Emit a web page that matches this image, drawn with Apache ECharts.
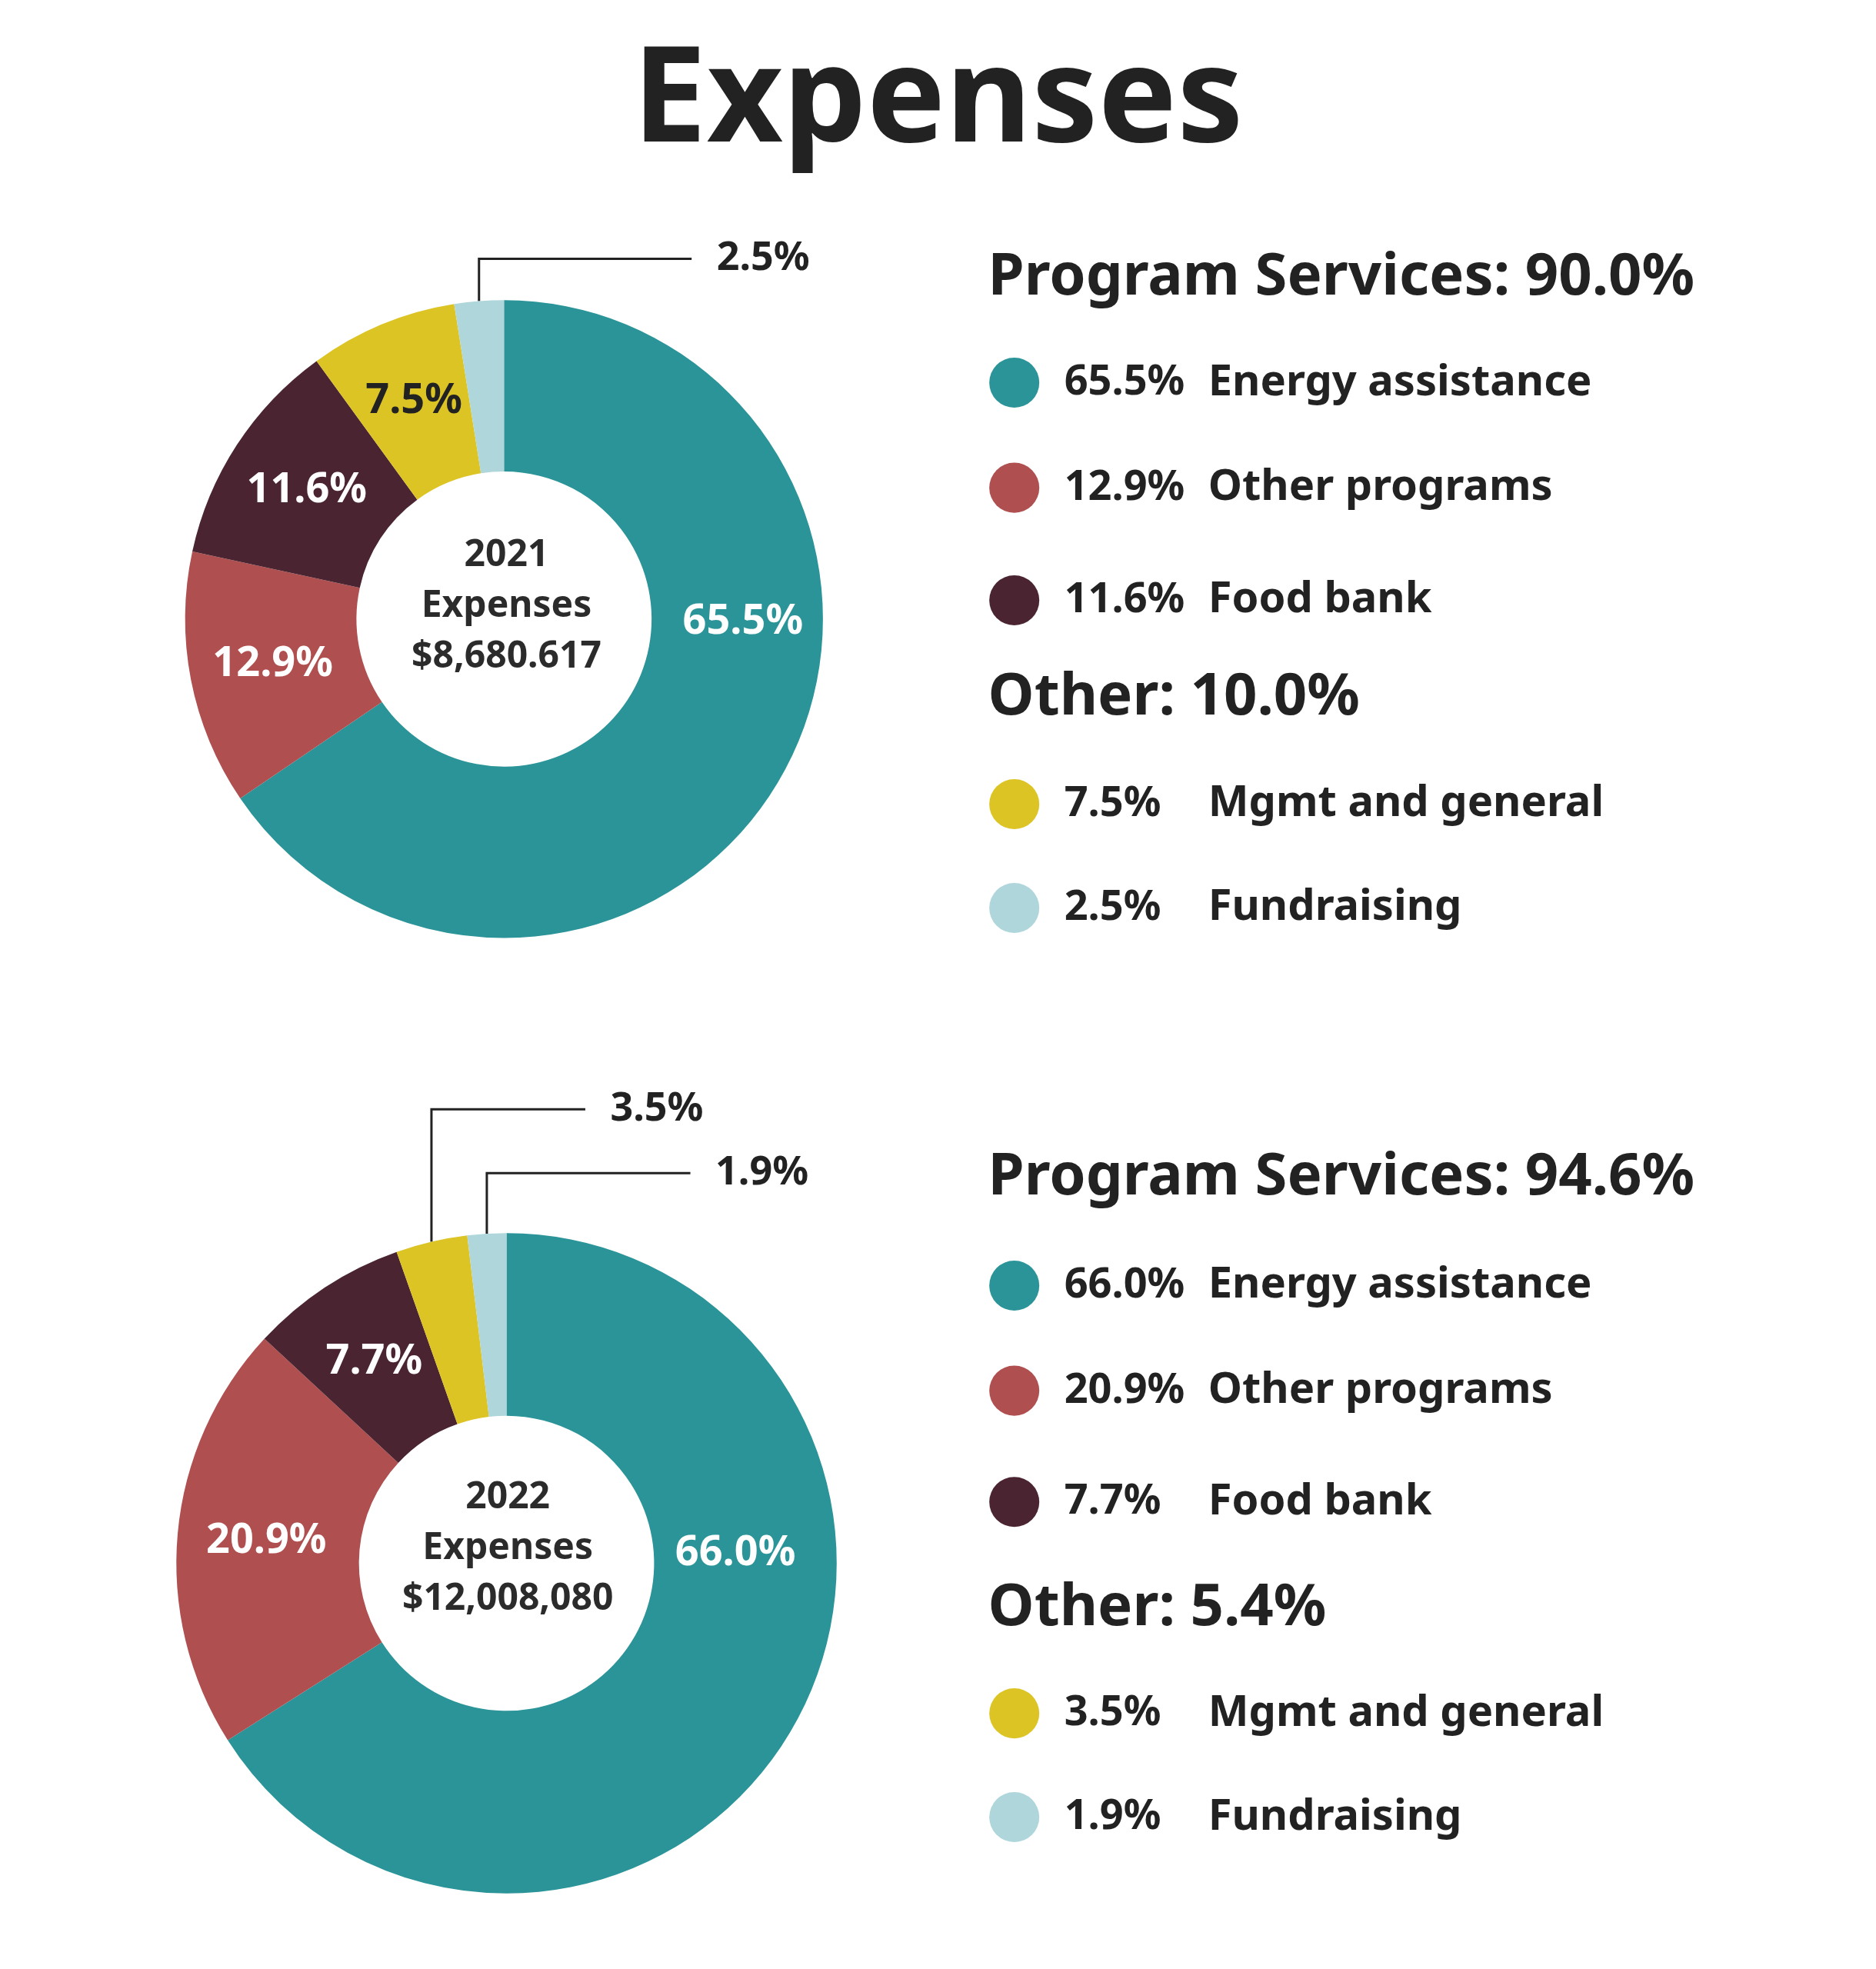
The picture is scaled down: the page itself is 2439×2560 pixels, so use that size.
<!DOCTYPE html>
<html><head><meta charset="utf-8">
<script src="https://cdn.jsdelivr.net/npm/echarts@6/dist/echarts.min.js"></script>
<style>html,body{margin:0;padding:0;background:#fff}#c{width:2439px;height:2560px}</style>
</head><body><div id="c"></div>
<script>
const categories = ['Energy assistance','Other programs','Food bank','Mgmt and general','Fundraising'];
const values2021 = [65.5, 12.9, 11.6, 7.5, 2.5];
const values2022 = [66.0, 20.9, 7.7, 3.5, 1.9];
const colors = ['#2a9499','#b04f4f','#4a2430','#dcc425','#aed6db'];
const centers = ['2021\nExpenses\n$8,680.617','2022\nExpenses\n$12,008,080'];
const headers2021 = ['Program Services: 90.0%','Other: 10.0%'];
const headers2022 = ['Program Services: 94.6%','Other: 5.4%'];
const S = 1.626;
const F = '"Noto Sans", sans-serif';
const chart = echarts.init(document.getElementById('c'));
const graphics = [];

function pie(vals, cx, cy, ro, ri, outsideIdx, outsidePos, bigPos){
  // leader lines computed from data
  const total = vals.reduce((a,b)=>a+b,0);
  outsideIdx.forEach((idx,k)=>{
    let after = 0; for(let j=idx+1;j<vals.length;j++) after += vals[j];
    const mid = (after + vals[idx]/2)/total*2*Math.PI;
    const x0 = (cx - ro*Math.sin(mid))*S, y0 = (cy - ro*Math.cos(mid))*S;
    const ly = outsidePos[k][1]*S, lx = (outsidePos[k][0]-20)*S;
    graphics.push({type:'polyline', shape:{points:[[x0,y0],[x0,ly],[lx,ly]]}, style:{stroke:'#222', lineWidth:3, fill:null}});
  });
  return {
    type:'pie', startAngle:90, clockwise:true, center:[cx*S, cy*S], radius:[ri*S, ro*S],
    avoidLabelOverlap:false, silent:true,
    itemStyle:{borderWidth:0},
    data: vals.map((v,i)=>{
      const d = {value:v, name:categories[i], itemStyle:{color:colors[i]}};
      if(outsideIdx.includes(i)){
        d.label={show:true, position:'outside', color:'#222', fontSize:52, fontWeight:'bold', fontFamily:F};
        d.labelLine={show:false};
      } else {
        d.label={show:true, position:'inner', color: i===3?'#222':'#fff', fontSize:54, fontWeight:'bold', fontFamily:F};
        d.labelLine={show:false};
      }
      return d;
    }),
    label:{formatter: p=>p.value.toFixed(1)+'%'},
    labelLayout: function(p){
      if(p.dataIndex===0) return {x: bigPos[0]*S, y: bigPos[1]*S, align:'center', verticalAlign:'middle'};
      const k = outsideIdx.indexOf(p.dataIndex);
      if(k<0) return {};
      const pos = outsidePos[k];
      return {x: pos[0]*S, y: pos[1]*S, align:'left', verticalAlign:'middle'};
    }
  };
}

graphics.push({type:'text', left:'center', top:30*S, style:{text:'Expenses', font:'bold 172px '+F, fill:'#222'}});
function center(txt, cx, cy){
  graphics.push({type:'text', x:cx*S, y:cy*S, style:{text:txt, font:'bold 48px '+F, fill:'#2b2b2b', align:'center', verticalAlign:'middle', lineHeight:66}});
}
center(centers[0], 405, 485);
center(centers[1], 406, 1238);
function legend(vals, headers, ys){
  graphics.push({type:'text', x:790*S, y:ys[0]*S, style:{text:headers[0], font:'bold 76px '+F, fill:'#222', verticalAlign:'middle'}});
  graphics.push({type:'text', x:790*S, y:ys[4]*S, style:{text:headers[1], font:'bold 76px '+F, fill:'#222', verticalAlign:'middle'}});
  const rowY = [ys[1],ys[2],ys[3],ys[5],ys[6]];
  vals.forEach((v,i)=>{
    graphics.push({type:'circle', shape:{cx:811*S, cy:rowY[i]*S, r:20*S}, style:{fill:colors[i]}});
    graphics.push({type:'text', x:851*S, y:rowY[i]*S, style:{text:v.toFixed(1)+'%', font:'bold 54px '+F, fill:'#222', verticalAlign:'middle'}});
    graphics.push({type:'text', x:966*S, y:rowY[i]*S, style:{text:categories[i], font:'bold 56px '+F, fill:'#222', verticalAlign:'middle'}});
  });
}
legend(values2021, headers2021, [222,306,390,480,558,643,726]);
legend(values2022, headers2022, [942,1028,1112,1201,1286,1370,1453]);

chart.setOption({
  animation:false,
  series:[
    pie(values2021, 403, 495, 255, 118, [4], [[573,207]], [594,497]),
    pie(values2022, 405, 1250, 264, 118, [3,4], [[488,887],[572,938]], [588,1242])
  ],
  graphic: graphics
});
</script></body></html>
